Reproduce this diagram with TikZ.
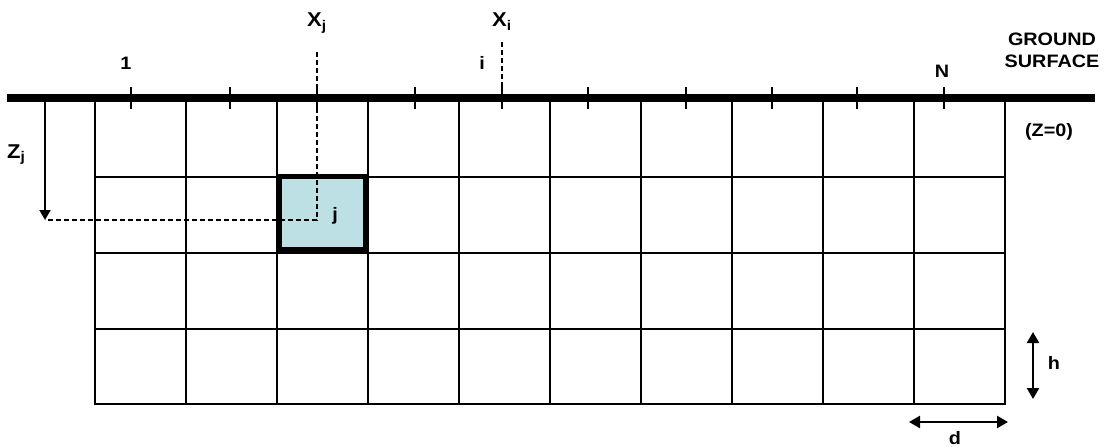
\documentclass[tikz,border=0pt]{standalone}
\usepackage{fontspec}
\setmainfont{Liberation Sans}[FakeStretch=1.1]
\usetikzlibrary{arrows.meta}
\definecolor{cellblue}{RGB}{188,224,227}
\newcommand\mylblfont{\fontsize{18}{22}\selectfont\bfseries}
\newcommand\mybigfont{\fontsize{20}{24}\selectfont\bfseries}
\begin{document}
\begin{tikzpicture}[x=1pt,y=-1pt,
  gridline/.style={line width=2.6pt},
  groundline/.style={line width=8pt},
  tickline/.style={line width=1.5pt},
  dashline/.style={line width=1.5pt,dash pattern=on 5pt off 3pt},
  lbl/.style={font=\mylblfont,inner sep=0pt},
  biglbl/.style={font=\mybigfont,inner sep=0pt,anchor=base west},
  dimarrow/.style={line width=2.4pt,{Triangle[width=12pt,length=11pt]}-{Triangle[width=12pt,length=11pt]}}]
\useasboundingbox (0,0) rectangle (1104,447);
% highlighted cell
\fill[cellblue] (277,177) rectangle (368,252);
% grid
\foreach \k in {0,...,10} \draw[gridline] (95+91*\k,98) -- (95+91*\k,405.3);
\foreach \y in {177,253,329,404} \draw[gridline] (93.7,\y) -- (1006.3,\y);
\node[draw,line width=5pt,minimum width=86pt,minimum height=73pt,inner sep=0pt] (cell) at (322.5,213) {};
% ground surface
\coordinate (gl) at (7,98);
\coordinate (gr) at (1095,98);
\draw[groundline] (gl) -- (gr);
\foreach \x in {131,230,317,415,502,588,686,772,857,944} \draw[tickline] (\x,87) -- (\x,109);
% dashed references
\coordinate (xjtop) at (317,52);
\coordinate (xjcorner) at (317,220);
\coordinate (zjend) at (45,220);
\coordinate (zjstart) at (45,102);
\coordinate (xitop) at (502,42);
\coordinate (xibot) at (502,100);
\draw[dashline] (xjtop) -- (xjcorner) -- (zjend);
\draw[dashline] (xitop) -- (xibot);
\draw[line width=1.8pt,-{Triangle[width=11pt,length=10pt]}] (zjstart) -- (zjend);
% dimension arrows
\coordinate (ht) at (1033,332);
\coordinate (hb) at (1033,399);
\coordinate (dl) at (909,422);
\coordinate (dr) at (1008,422);
\draw[dimarrow] (ht) -- (hb);
\draw[dimarrow] (dl) -- (dr);
% labels
\node[biglbl] (xj) at (307,27) {X\textsubscript{j}};
\node[biglbl] (xi) at (492,27) {X\textsubscript{i}};
\node[biglbl] (zj) at (7,158) {Z\textsubscript{j}};
\node[lbl] (one) at (126,63) {1};
\node[lbl] (ii) at (482,63) {i};
\node[lbl] (nn) at (942,71) {N};
\node[lbl,align=center] (gs) at (1052,50) {GROUND\\SURFACE};
\node[lbl] (z0) at (1049,132) {(Z=0)};
\node[lbl] (jj) at (335,216) {j};
\node[lbl] (hh) at (1054,363) {h};
\node[lbl] (dd) at (955,438) {d};
\end{tikzpicture}
\end{document}
